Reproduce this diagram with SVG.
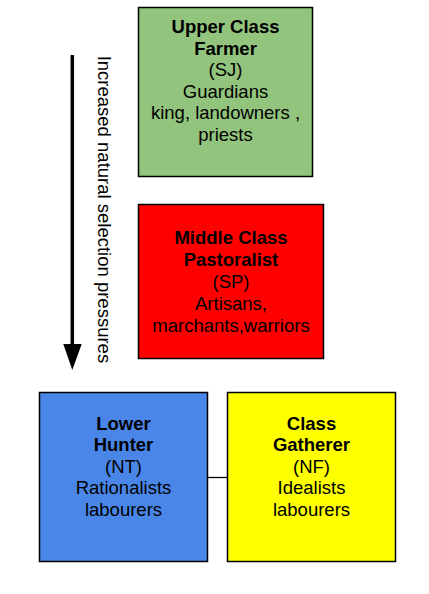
<svg xmlns="http://www.w3.org/2000/svg" width="429" height="594" viewBox="0 0 429 594">
<style>
.box{stroke:#000;stroke-width:1.5}
text{font-family:"Liberation Sans",Arial,sans-serif;font-size:18.5px;fill:#000;text-anchor:middle}
.b{font-weight:bold}
</style>
<rect width="429" height="594" fill="#fff"/>
<g id="connectors">
<line x1="207.5" y1="477.5" x2="227.5" y2="477.5" stroke="#000" stroke-width="1.3"/>
<line x1="72.3" y1="55" x2="72.3" y2="346" stroke="#000" stroke-width="3.5"/>
<polygon points="63.3,344 81.7,344 72.3,370" fill="#000"/>
</g>
<g id="label-pressure">
<text transform="translate(97.5,209.4) rotate(90)">Increased natural selection pressures</text>
</g>
<g id="upper">
<rect class="box" x="138.5" y="7.5" width="174" height="169" fill="#93c47d"/>
<text x="225.5" y="33" class="b">Upper Class</text>
<text x="225.5" y="54.5" class="b">Farmer</text>
<text x="225.5" y="76">(SJ)</text>
<text x="225.5" y="97.5">Guardians</text>
<text x="225.5" y="119">king, landowners ,</text>
<text x="225.5" y="140.5">priests</text>
</g>
<g id="middle">
<rect class="box" x="138.5" y="204.5" width="185" height="154" fill="#ff0000"/>
<text x="231" y="243.5" class="b">Middle Class</text>
<text x="231" y="265.5" class="b">Pastoralist</text>
<text x="231" y="287.5">(SP)</text>
<text x="231" y="309.5">Artisans,</text>
<text x="231" y="331.5">marchants,warriors</text>
</g>
<g id="lower">
<rect class="box" x="39.5" y="392.5" width="168" height="169" fill="#4a86e8"/>
<text x="123.5" y="429.5" class="b">Lower</text>
<text x="123.5" y="451" class="b">Hunter</text>
<text x="123.5" y="472.5">(NT)</text>
<text x="123.5" y="494">Rationalists</text>
<text x="123.5" y="516">labourers</text>
</g>
<g id="gatherer">
<rect class="box" x="227.5" y="392.5" width="168" height="169" fill="#ffff00"/>
<text x="311.5" y="429.5" class="b">Class</text>
<text x="311.5" y="451" class="b">Gatherer</text>
<text x="311.5" y="472.5">(NF)</text>
<text x="311.5" y="494">Idealists</text>
<text x="311.5" y="516">labourers</text>
</g>
</svg>
